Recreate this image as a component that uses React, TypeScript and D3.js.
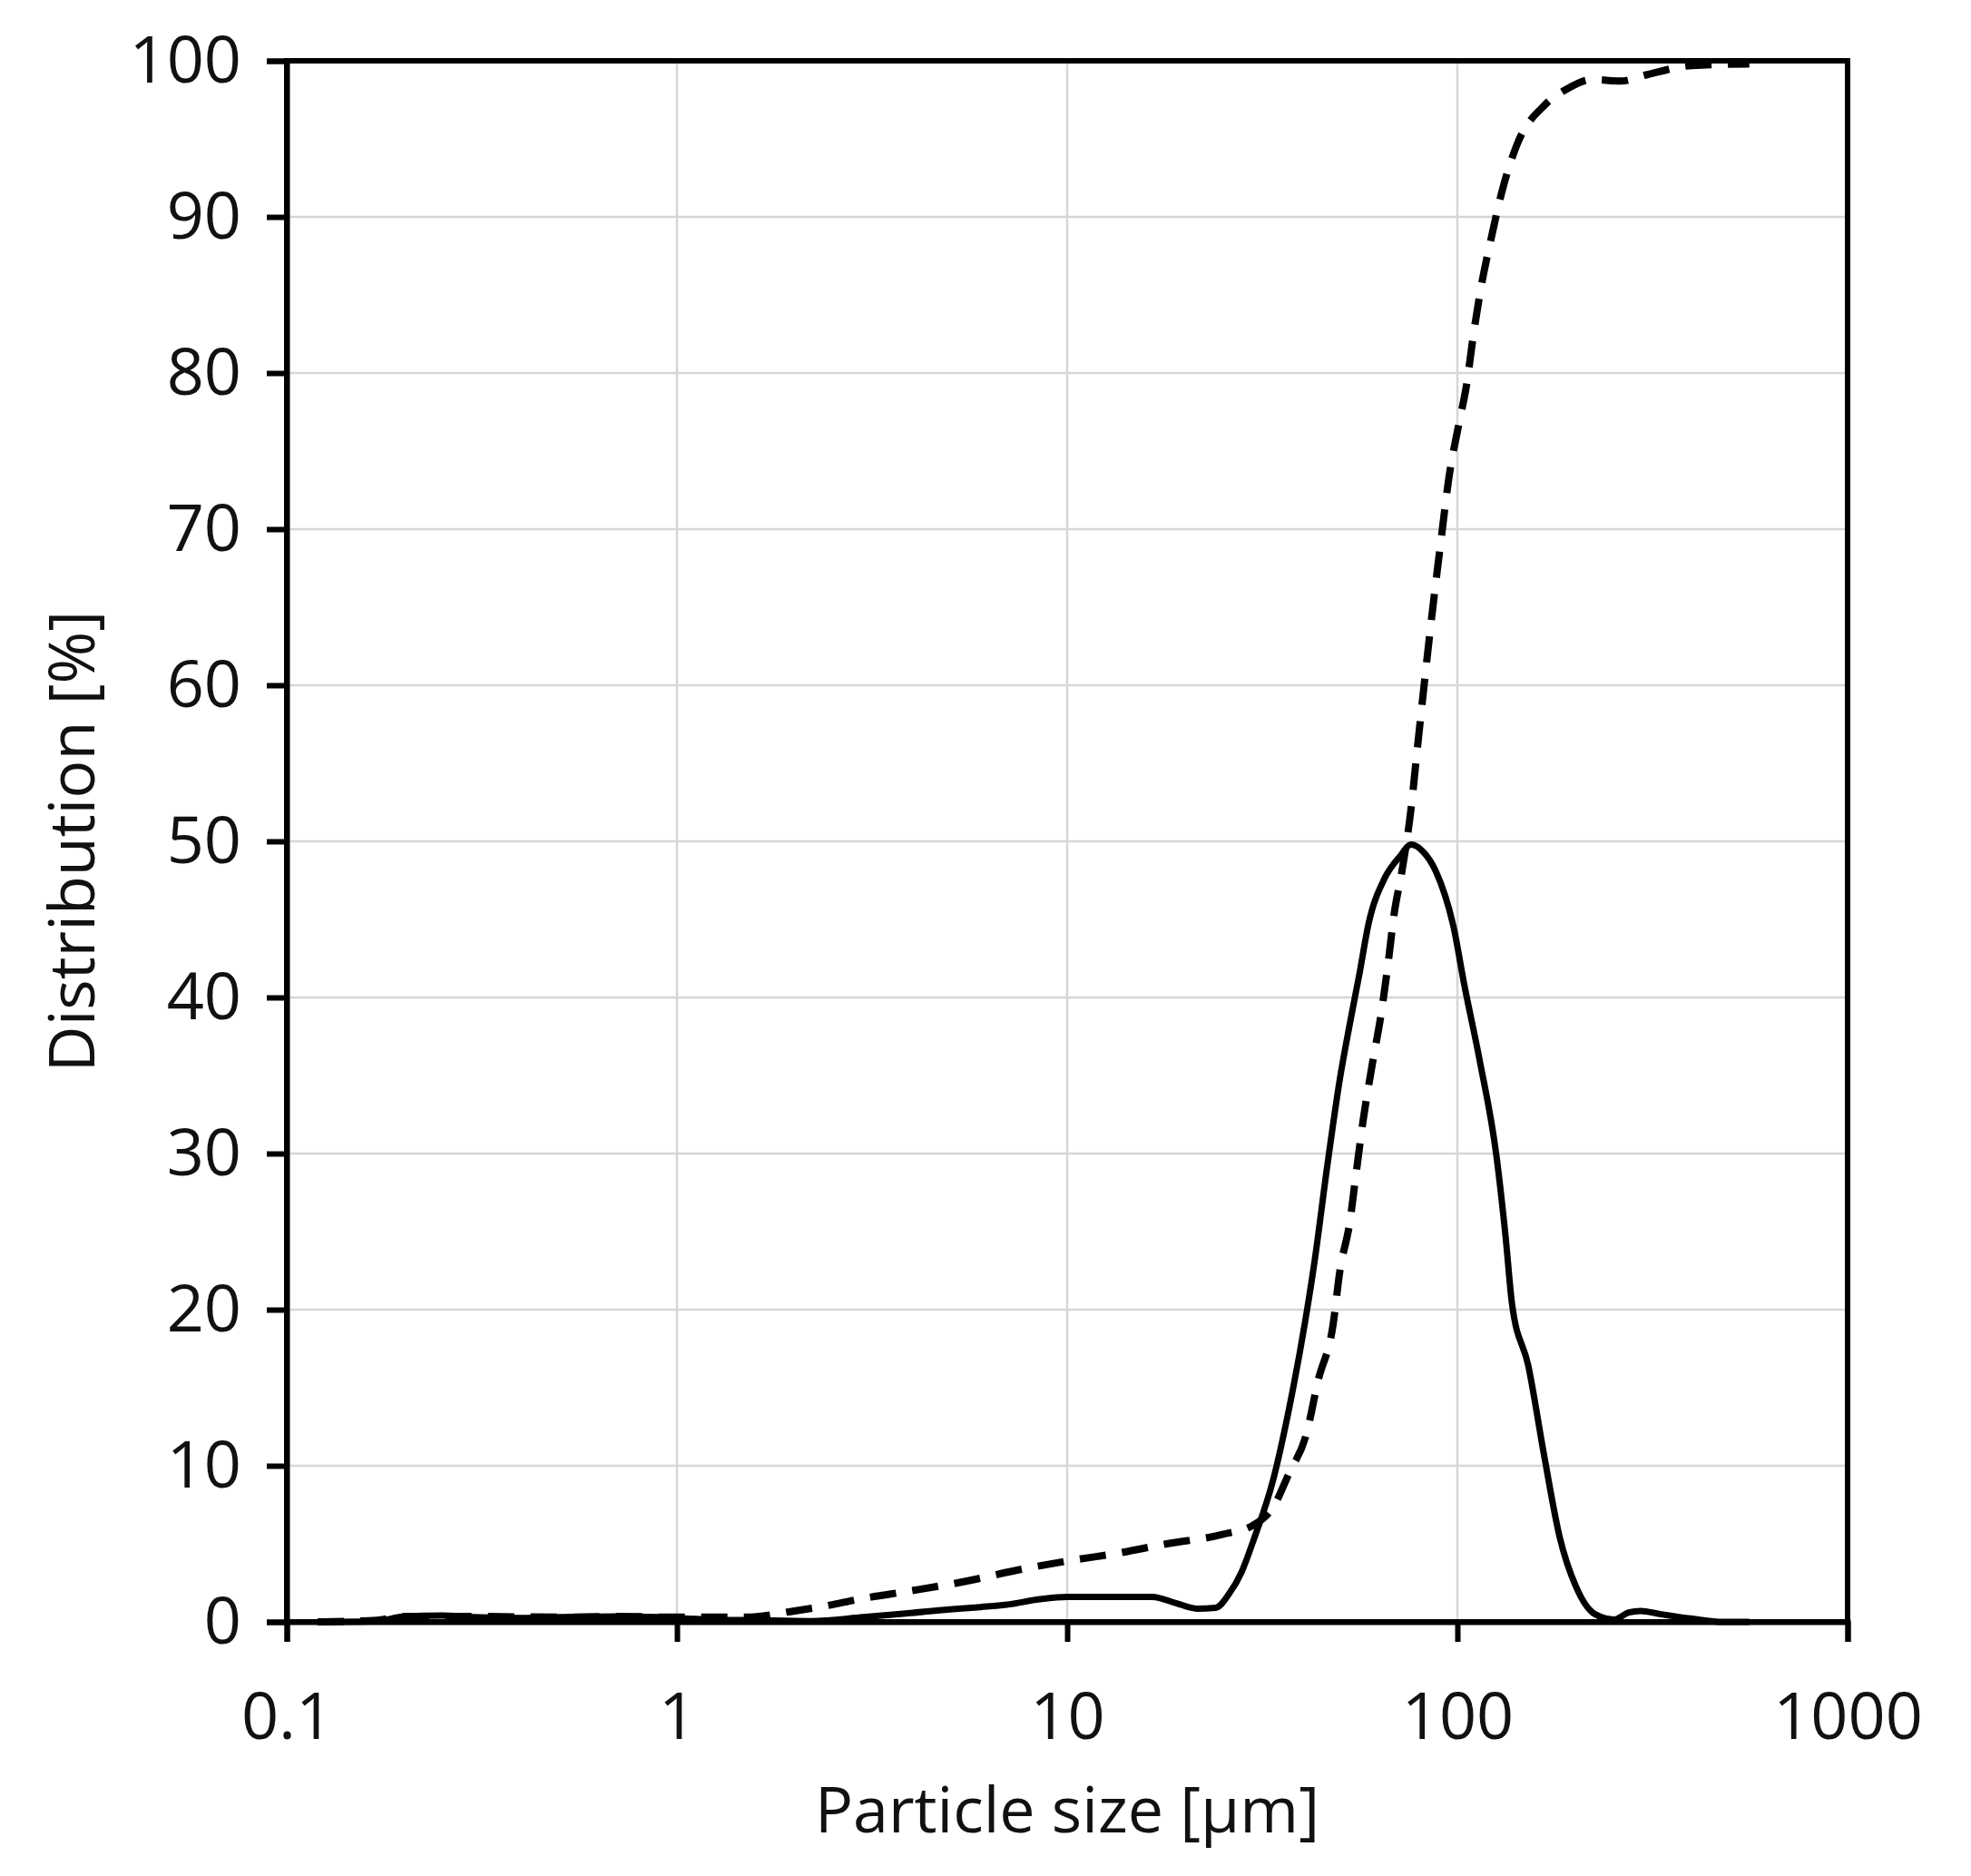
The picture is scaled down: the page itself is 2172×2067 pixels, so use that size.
import { useEffect, useRef } from 'react'
import { select, scaleLog, scaleLinear, axisBottom, axisLeft, line, curveMonotoneX } from 'd3'

// particle size [µm] and frequency distribution (solid)
const freqSize = [0.12, 0.17, 0.2, 0.25, 0.3, 0.4, 0.5, 0.7, 0.9, 1.2, 1.6, 2.2, 3.0, 3.9, 5.0, 6.0, 7.0, 8.5, 10, 13, 16.5, 19, 21.5, 24, 26, 28, 30, 33.8, 37, 40.7, 43, 46.4, 50, 53, 56, 59.3, 65, 71.6, 76, 82, 88, 98, 104, 114, 126, 133, 138, 152, 167, 183, 201, 225, 252, 275, 295, 330, 400, 480, 560]
const freqValue = [0, 0.05, 0.35, 0.4, 0.3, 0.25, 0.3, 0.35, 0.3, 0.15, 0.1, 0.05, 0.3, 0.55, 0.8, 0.95, 1.1, 1.45, 1.6, 1.6, 1.6, 1.2, 0.85, 0.9, 1.8, 3.2, 5.2, 9.2, 13.6, 19.2, 23, 29.2, 34.8, 38.3, 41.4, 44.8, 47.6, 49.1, 49.8, 49.3, 48.1, 44.4, 40.9, 36, 29.8, 24.6, 20.4, 16.4, 10.6, 5.4, 2.3, 0.5, 0.15, 0.6, 0.7, 0.5, 0.2, 0, 0]

// cumulative distribution (dashed)
const cumSize = [0.12, 0.17, 0.2, 0.3, 0.5, 0.7, 1.0, 1.5, 2.0, 2.5, 3.0, 4.0, 5.5, 7.4, 10, 13.5, 18, 25, 30, 34, 37, 41, 44, 48, 50, 53, 55, 57.4, 60.5, 64, 66.3, 69, 72, 76, 79, 83, 87, 91, 95, 101, 105.5, 110, 115, 122, 130, 142, 168, 191, 222, 262, 305, 400, 560]
const cumValue = [0, 0.1, 0.35, 0.35, 0.3, 0.35, 0.3, 0.3, 0.7, 1.1, 1.5, 2.0, 2.6, 3.3, 3.9, 4.4, 5.0, 5.6, 6.2, 7.5, 9.5, 12, 15.5, 19, 22.5, 25.6, 28.7, 32.2, 35.7, 39.2, 42, 45.5, 48, 52, 56, 61, 65.5, 69.5, 73.2, 76.8, 79.2, 82.5, 85.5, 88.6, 91.6, 94.6, 97.2, 98.2, 98.8, 98.7, 99.1, 99.7, 99.8]

const xTicks = [0.1, 1, 10, 100, 1000]
const xTickLabels = ['0.1', '1', '10', '100', '1000']
const yTicks = [0, 10, 20, 30, 40, 50, 60, 70, 80, 90, 100]

const W = 2172
const H = 2067
const left = 316
const right = 2036
const top = 67
const bottom = 1787
const font = '"Open Sans", "Noto Sans", sans-serif'

export default function App() {
  const svgRef = useRef<SVGSVGElement | null>(null)

  useEffect(() => {
    const svg = select(svgRef.current)
    const x = scaleLog().domain([0.1, 1000]).range([left, right])
    const y = scaleLinear().domain([0, 100]).range([bottom, top])

    // grid
    const grid = svg.select('.grid')
    grid
      .selectAll('.hg')
      .data(yTicks.filter((t) => t > 0 && t < 100))
      .join('line')
      .attr('class', 'hg')
      .attr('x1', left)
      .attr('x2', right)
      .attr('y1', (d) => y(d))
      .attr('y2', (d) => y(d))
      .attr('stroke', '#d8d5d8')
      .attr('stroke-width', 2.5)
    grid
      .selectAll('.vg')
      .data(xTicks.slice(1, -1))
      .join('line')
      .attr('class', 'vg')
      .attr('x1', (d) => x(d))
      .attr('x2', (d) => x(d))
      .attr('y1', top)
      .attr('y2', bottom)
      .attr('stroke', '#d8d5d8')
      .attr('stroke-width', 2.5)

    // data lines
    const freqLine = line<number>()
      .x((_, i) => x(freqSize[i]))
      .y((d) => y(d))
      .curve(curveMonotoneX)
    const cumLine = line<number>()
      .x((_, i) => x(cumSize[i]))
      .y((d) => y(d))
      .curve(curveMonotoneX)

    svg
      .select('.lines')
      .selectAll('.cum')
      .data([cumValue])
      .join('path')
      .attr('class', 'cum')
      .attr('d', cumLine)
      .attr('fill', 'none')
      .attr('stroke', '#000')
      .attr('stroke-width', 8)
      .attr('stroke-dasharray', '29 18')
    svg
      .select('.lines')
      .selectAll('.freq')
      .data([freqValue])
      .join('path')
      .attr('class', 'freq')
      .attr('d', freqLine)
      .attr('fill', 'none')
      .attr('stroke', '#000')
      .attr('stroke-width', 7)
      .attr('stroke-linejoin', 'round')

    // axes
    const xAxis = axisBottom(x)
      .tickValues(xTicks)
      .tickFormat((_, i) => xTickLabels[i])
      .tickSize(22)
      .tickPadding(56)
    svg
      .select<SVGGElement>('.x-axis')
      .attr('transform', `translate(0,${bottom})`)
      .call(xAxis as any)

    const yAxis = axisLeft(y).tickValues(yTicks).tickSize(22).tickPadding(28)
    svg
      .select<SVGGElement>('.y-axis')
      .attr('transform', `translate(${left},0)`)
      .call(yAxis as any)

    svg.selectAll('.x-axis path, .y-axis path').attr('stroke', '#000').attr('stroke-width', 6)
    svg.selectAll('.x-axis line, .y-axis line').attr('stroke', '#000').attr('stroke-width', 6)
    svg
      .selectAll('.x-axis text, .y-axis text')
      .attr('fill', '#111')
      .style('font-size', '72px')
      .style('font-family', font)
  }, [])

  return (
    <svg
      ref={svgRef}
      width={W}
      height={H}
      style={{ position: 'absolute', left: 0, top: 0, background: '#fff' }}
    >
      <rect x={0} y={0} width={W} height={H} fill="#fff" />
      <g className="grid" />
      <g className="lines" />
      <rect x={left} y={top} width={right - left} height={bottom - top} fill="none" stroke="#000" strokeWidth={6} />
      <g className="x-axis" />
      <g className="y-axis" />
      <text x={(left + right) / 2} y={2019} textAnchor="middle" fontSize={70} fontFamily={font} fill="#111">
        Particle size [µm]
      </text>
      <text
        transform={`translate(104,${(top + bottom) / 2}) rotate(-90)`}
        textAnchor="middle"
        fontSize={70}
        fontFamily={font}
        fill="#111"
      >
        Distribution [%]
      </text>
    </svg>
  )
}
